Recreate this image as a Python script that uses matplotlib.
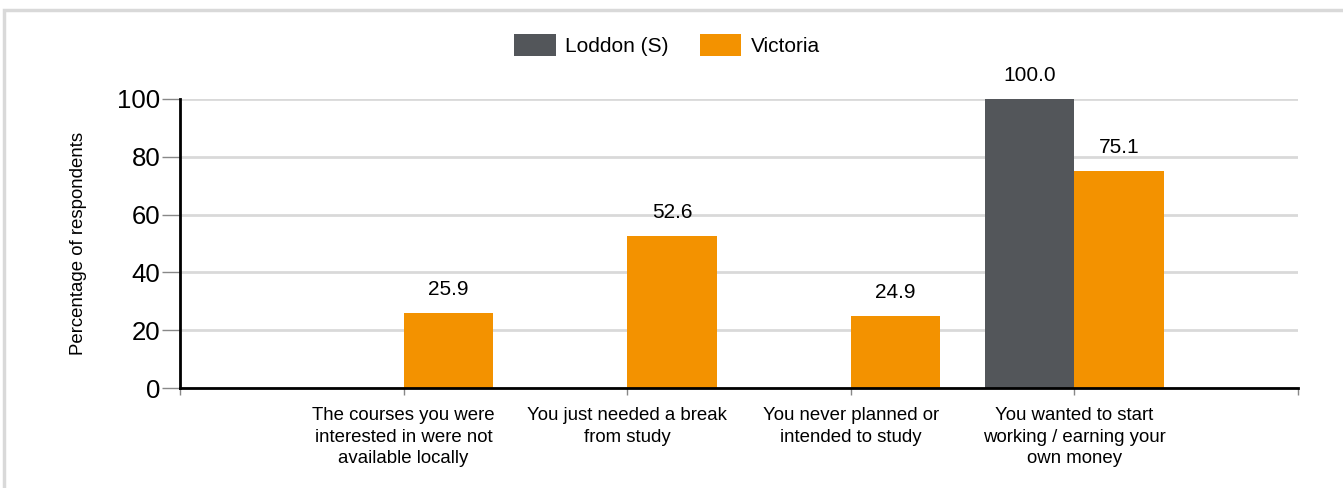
import matplotlib
matplotlib.use("Agg")
import matplotlib.pyplot as plt
from matplotlib.patches import Rectangle
import numpy as np

plt.rcParams['font.family'] = ['Liberation Sans', 'DejaVu Sans']

categories = [
    "The courses you were\ninterested in were not\navailable locally",
    "You just needed a break\nfrom study",
    "You never planned or\nintended to study",
    "You wanted to start\nworking / earning your\nown money",
]
loddon = [None, None, None, 100.0]
victoria = [25.9, 52.6, 24.9, 75.1]
series_names = ["Loddon (S)", "Victoria"]
colors = ["#53565a", "#f39200"]

fig = plt.figure(figsize=(13.43, 4.88), dpi=100)
ax = fig.add_axes([180 / 1343, 100 / 488, 1118 / 1343, 289 / 488])

# light frame around the whole chart
fig.patches.append(Rectangle((4 / 1343, -0.1), 1.2, (488 - 10) / 488 + 0.1,
                             transform=fig.transFigure, fill=False,
                             edgecolor="#d9d9d9", linewidth=2.5))

x = np.arange(1, len(categories) + 1)
w = 0.4
lod_vals = [v if v is not None else 0 for v in loddon]
b1 = ax.bar(x - w / 2, lod_vals, w, color=colors[0], label=series_names[0])
b2 = ax.bar(x + w / 2, victoria, w, color=colors[1], label=series_names[1])

for rect, v in zip(b1, loddon):
    if v is not None:
        ax.annotate(f"{v:.1f}", (rect.get_x() + rect.get_width() / 2, v),
                    xytext=(0, 10), textcoords="offset points",
                    ha="center", va="bottom", fontsize=15)
for rect, v in zip(b2, victoria):
    ax.annotate(f"{v:.1f}", (rect.get_x() + rect.get_width() / 2, v),
                xytext=(0, 10), textcoords="offset points",
                ha="center", va="bottom", fontsize=15)

ax.set_xlim(0, 5)
ax.set_ylim(0, 100)
ax.set_yticks([0, 20, 40, 60, 80, 100])
ax.set_xticks(range(0, 6))
ax.set_xticklabels([""] + categories + [""], fontsize=13.4, linespacing=1.33)
ax.tick_params(axis="y", labelsize=18.5, length=13, color="#888888", width=1, pad=1)
ax.tick_params(axis="x", length=5, color="#888888", width=1, pad=9)

ax.grid(axis="y", color="#d9d9d9", linewidth=2)
ax.set_axisbelow(True)
for s in ["top", "right"]:
    ax.spines[s].set_visible(False)
ax.spines["left"].set_linewidth(2)
ax.spines["bottom"].set_linewidth(2)

ax.set_ylabel("Percentage of respondents", fontsize=13.4, labelpad=22)

fig.legend(handles=[b1, b2], labels=series_names, loc="center",
           bbox_to_anchor=(667 / 1343, 1 - 45 / 488), ncol=2, frameon=False,
           fontsize=15, handlelength=2.0, handleheight=1.2, columnspacing=1.5,
           handletextpad=0.45)

fig.savefig("out.png", dpi=100)
